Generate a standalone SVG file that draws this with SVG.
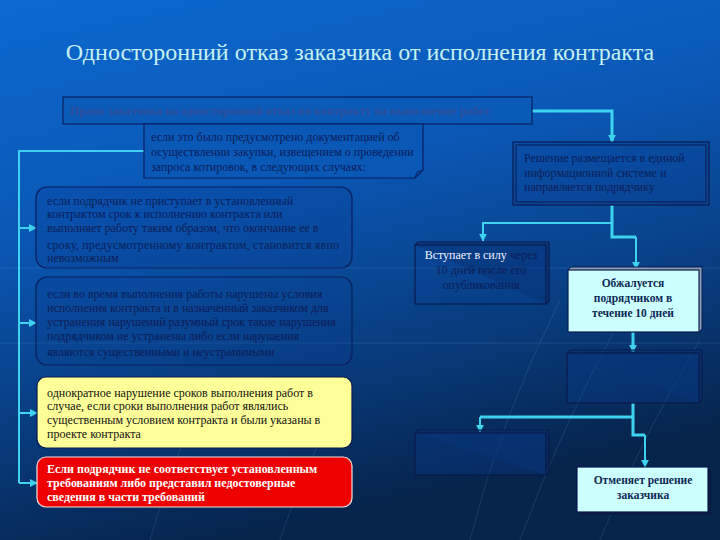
<svg xmlns="http://www.w3.org/2000/svg" width="720" height="540" viewBox="0 0 720 540">
<defs>
<linearGradient id="bg" x1="0" y1="0" x2="0.3" y2="1">
<stop offset="0" stop-color="#0d69d0"/>
<stop offset="0.4" stop-color="#0a58b6"/>
<stop offset="0.75" stop-color="#083b7c"/>
<stop offset="1" stop-color="#06244c"/>
</linearGradient>
<marker id="ah" viewBox="0 0 10 10" refX="9" refY="5" markerWidth="8" markerHeight="8" markerUnits="userSpaceOnUse" orient="auto">
<path d="M0,0 L10,5 L0,10 Z" fill="#3fd2f0"/>
</marker>
<style>
.t{font-family:"Liberation Serif","Times New Roman",serif;}
.dk{fill:#0c1d58;font-size:12px;}
.box{fill:#0a3f96;fill-opacity:0.3;stroke:#0b1f5e;stroke-width:1.2;}
.con{fill:none;stroke:#3fd2f0;stroke-width:2;}
.thick{stroke-width:3;}
.b3{fill:#0a3f96;fill-opacity:0.3;stroke:#0b1a4e;stroke-width:1.2;}
.bk{fill:#06306a;fill-opacity:0.5;stroke:#0b1a4e;stroke-width:1.2;}
.lt{fill:#ccffff;stroke:#0b1a4e;stroke-width:1.2;}
.bd{font-weight:bold;fill:#0c2a55;font-size:11.5px;}
</style>
</defs>
<rect width="720" height="540" fill="url(#bg)"/>
<g opacity="0.12" stroke="#9fe0ff" fill="none" stroke-width="1">
<line x1="0" y1="343" x2="720" y2="343"/>
<line x1="0" y1="268" x2="720" y2="268"/>
<path d="M470,540 Q500,420 560,300"/>
<path d="M520,540 Q560,430 620,320"/>
<path d="M600,540 Q640,440 700,340"/>
<path d="M150,540 Q170,470 200,400"/>
<path d="M280,540 Q300,480 330,420"/>
</g>
<text class="t" x="360" y="60" text-anchor="middle" font-size="24" fill="#c6f0f2">Односторонний отказ заказчика от исполнения контракта</text>

<g id="connectors">
<path class="con thick" d="M532,111 H612 V142" marker-end="url(#ah)"/>
<path class="con thick" d="M612,205 V223"/>
<path class="con" d="M612,223 H483 V241" marker-end="url(#ah)"/>
<path class="con thick" d="M612,223 V237 H636"/>
<path class="con" d="M636,237 V269" marker-end="url(#ah)"/>
<path class="con thick" d="M633,332 V352" marker-end="url(#ah)"/>
<path class="con thick" d="M633,403 V417"/>
<path class="con thick" d="M633,417 H480"/>
<path class="con" d="M480,417 V432" marker-end="url(#ah)"/>
<path class="con thick" d="M633,417 V435 H645"/>
<path class="con" d="M645,435 V467" marker-end="url(#ah)"/>
<path class="con" d="M144,151 H19 V483"/>
<path class="con" d="M19,228 H36" marker-end="url(#ah)"/>
<path class="con" d="M19,323 H36" marker-end="url(#ah)"/>
<path class="con" d="M19,413 H37" marker-end="url(#ah)"/>
<path class="con" d="M19,483 H37" marker-end="url(#ah)"/>
</g>

<g id="banner">
<rect x="63" y="97" width="469" height="27" fill="#0a5ab8" stroke="#0b1f5e" stroke-width="1.2"/>
<text class="t" x="70" y="115" font-size="12" font-weight="bold" fill="#2e4d98">Право заказчика на односторонний отказ по контракту на выполнение работ</text>
</g>

<g id="callout">
<path d="M144,124 H423 V170 L415,178 H144 Z" fill="#0a58b6" stroke="#0b1f5e" stroke-width="1.2"/>
<path d="M415,178 L417,172 L423,170" fill="none" stroke="#0b1f5e" stroke-width="1"/>
<text class="t dk" x="151" y="141">если это было предусмотрено документацией об</text>
<text class="t dk" x="151" y="156">осуществлении закупки, извещением о проведении</text>
<text class="t dk" x="151" y="171">запроса котировок, в следующих случаях:</text>
</g>

<g id="case1">
<rect class="box" x="36" y="187" width="316" height="81" rx="11"/>
<text class="t dk" x="47" y="205">если подрядчик не приступает в установленный</text>
<text class="t dk" x="47" y="218">контрактом срок к исполнению контракта или</text>
<text class="t dk" x="47" y="232">выполняет работу таким образом, что окончание ее в</text>
<text class="t dk" x="47" y="249" letter-spacing="0.2">сроку, предусмотренному контрактом, становится явно</text>
<text class="t dk" x="47" y="262">невозможным</text>
</g>

<g id="case2">
<rect class="box" x="36" y="277" width="316" height="88" rx="11"/>
<text class="t dk" x="47" y="298">если во время выполнения работы нарушены условия</text>
<text class="t dk" x="47" y="312">исполнения контракта и в назначенный заказчиком для</text>
<text class="t dk" x="47" y="326">устранения нарушений разумный срок такие нарушения</text>
<text class="t dk" x="47" y="340">подрядчиком не устранены либо если нарушения</text>
<text class="t dk" x="47" y="356">являются существенными и неустранимыми</text>
</g>

<g id="case3">
<rect x="37" y="377" width="315" height="71" rx="9" fill="#ffff99" stroke="#0b1a4e" stroke-width="1.2"/>
<text class="t" x="47" y="397" font-size="12" fill="#111">однократное нарушение сроков выполнения работ в</text>
<text class="t" x="47" y="410" font-size="12" fill="#111">случае, если сроки выполнения работ являлись</text>
<text class="t" x="47" y="424" font-size="12" fill="#111">существенным условием контракта и были указаны в</text>
<text class="t" x="47" y="438" font-size="12" fill="#111">проекте контракта</text>
</g>

<g id="case4">
<rect x="37" y="457" width="315" height="50" rx="9" fill="#ee0000" stroke="#f2e0e0" stroke-width="1.2"/>
<text class="t" x="47" y="473" font-size="12" font-weight="bold" fill="#fff">Если подрядчик не соответствует установленным</text>
<text class="t" x="47" y="487" font-size="12" font-weight="bold" fill="#fff">требованиям либо представил недостоверные</text>
<text class="t" x="47" y="501" font-size="12" font-weight="bold" fill="#fff">сведения в части требований</text>
</g>

<g id="decision">
<rect x="513" y="142" width="196" height="63" fill="#0a3f96" fill-opacity="0.3" stroke="#0b1a4e" stroke-width="1.2"/>
<rect x="516" y="145" width="190" height="57" fill="none" stroke="#0b1a4e" stroke-width="1"/>
<text class="t dk" x="524" y="162">Решение размещается в единой</text>
<text class="t dk" x="524" y="177">информационной системе и</text>
<text class="t dk" x="524" y="191">направляется подрядчику</text>
</g>

<g id="effect">
<path class="bk" d="M415,245 L418,242 H549 V301 L546,304"/>
<rect class="b3" x="415" y="245" width="131" height="59"/>
<text class="t" x="481" y="259" font-size="12" text-anchor="middle" fill="#0c1d58"><tspan fill="#f0f4ff">Вступает в силу</tspan> через</text>
<text class="t dk" x="481" y="274" text-anchor="middle">10 дней после его</text>
<text class="t dk" x="481" y="289" text-anchor="middle">опубликования</text>
</g>

<g id="appeal">
<path d="M568,270 L571,267 H702 V329 L699,332" fill="#8aa0b8" stroke="#0b1a4e" stroke-width="1"/>
<rect class="lt" x="568" y="270" width="131" height="62"/>
<text class="t bd" x="633" y="287" text-anchor="middle">Обжалуется</text>
<text class="t bd" x="633" y="302" text-anchor="middle">подрядчиком в</text>
<text class="t bd" x="633" y="317" text-anchor="middle">течение 10 дней</text>
</g>

<g id="empty">
<path class="bk" d="M567,353 L570,350 H702 V400 L699,403"/>
<rect class="b3" x="567" y="353" width="132" height="50"/>
</g>

<g id="faint">
<path class="bk" d="M415,433 L418,430 H549 V472 L546,475"/>
<rect class="b3" x="415" y="433" width="131" height="42"/>
</g>

<g id="cancel">
<rect x="580" y="470" width="131" height="45" fill="#0a1a40"/>
<rect class="lt" x="577" y="467" width="131" height="45"/>
<text class="t bd" x="643" y="484" text-anchor="middle">Отменяет решение</text>
<text class="t bd" x="643" y="499" text-anchor="middle">заказчика</text>
</g>
</svg>
